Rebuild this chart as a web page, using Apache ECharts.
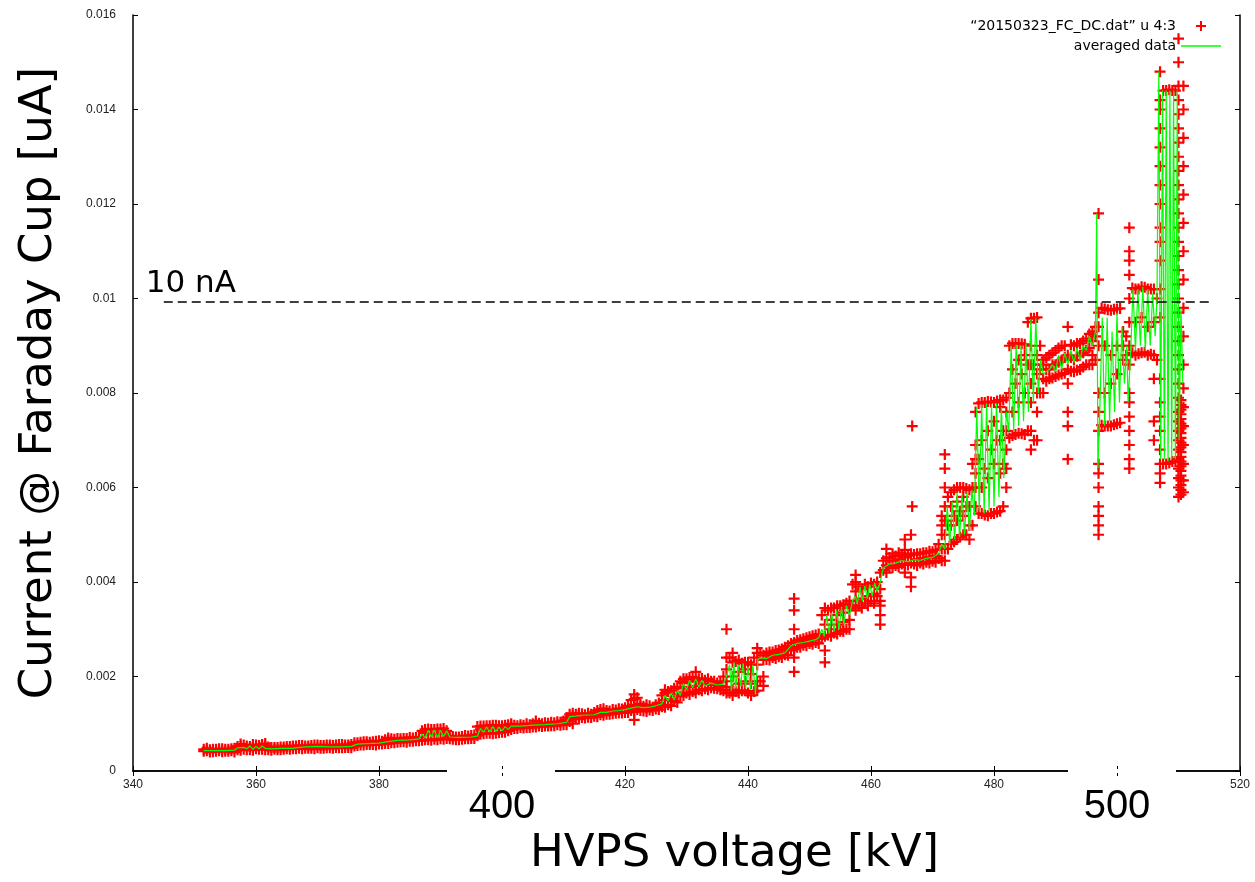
<!DOCTYPE html>
<html>
<head>
<meta charset="utf-8">
<script src="https://cdn.jsdelivr.net/npm/echarts@6/dist/echarts.min.js"></script>
<style>
html,body{margin:0;padding:0;background:#fff;}
#chart{width:1255px;height:882px;}
</style>
</head>
<body>
<div id="chart"></div>
<script>
// ---- axis settings ----
const xMin = 340, xMax = 520, xStep = 20;
const yMin = 0, yMax = 0.016, yStep = 0.002;
const bigTickLabels = [400, 500];
const thresholdValue = 0.00993;
const thresholdRange = [345, 515];
const thresholdLabel = '10 nA';
const seriesNames = ['\u201c20150323_FC_DC.dat\u201d u 4:3', 'averaged data'];

// ---- raw measurements: [voltage kV, [currents uA]] ----
const rawColumns = [
  [351.5,[0.00042,0.00046]],[352.5,[0.00040,0.00045]],[353.5,[0.00042,0.00046]],[354.5,[0.00041,0.00047]],
  [355.5,[0.00042,0.00046]],[356.5,[0.00040,0.00048]],[357.5,[0.00044,0.00052,0.00057]],[358.5,[0.00045,0.00053]],
  [359.5,[0.00044,0.00050,0.00056]],[360.5,[0.00046,0.00054]],[361.5,[0.00045,0.00053,0.00058]],[362.5,[0.00044,0.00050]],
  [363.5,[0.00045,0.00050]],[364.5,[0.00046,0.00051]],[365.5,[0.00046,0.00052]],[366.5,[0.00047,0.00053]],
  [367.5,[0.00047,0.00054]],[368.5,[0.00048,0.00053]],[369.5,[0.00047,0.00055]],[370.5,[0.00048,0.00054]],
  [371.5,[0.00049,0.00055]],[372.5,[0.00048,0.00054]],[373.5,[0.00049,0.00056]],[374.5,[0.00050,0.00055]],
  [375.5,[0.00049,0.00056]],[376.5,[0.00054,0.00060]],[377.5,[0.00055,0.00062]],[378.5,[0.00056,0.00061]],
  [379.5,[0.00055,0.00063]],[380.5,[0.00057,0.00063]],[381.5,[0.00058,0.00065,0.00070]],[382.5,[0.00060,0.00067]],
  [383.5,[0.00062,0.00068]],[384.5,[0.00061,0.00069]],[385.5,[0.00063,0.00070]],[386.5,[0.00064,0.00072]],
  [387.5,[0.00066,0.00080,0.00088]],[388.5,[0.00065,0.00078,0.00088]],[389.5,[0.00066,0.00080,0.00089]],[390.5,[0.00067,0.00082,0.00090]],
  [391.5,[0.00068,0.00074]],[392.5,[0.00066,0.00072]],[393.5,[0.00067,0.00073]],[394.5,[0.00068,0.00074]],
  [395.5,[0.00069,0.00076]],[396.5,[0.00078,0.00088,0.00095]],[397.5,[0.00080,0.00089,0.00096]],[398.5,[0.00079,0.00090,0.00097]],
  [399.5,[0.00081,0.00090,0.00096]],[400.5,[0.00082,0.00091,0.00097]],[401.5,[0.00088,0.00095,0.00100]],[402.5,[0.00090,0.00096]],
  [403.5,[0.00091,0.00097]],[404.5,[0.00092,0.00098]],[405.5,[0.00093,0.00099,0.00106]],[406.5,[0.00094,0.00100]],
  [407.5,[0.00095,0.00101]],[408.5,[0.00096,0.00102]],[409.5,[0.00097,0.00103]],[410.5,[0.00098,0.00108,0.00113]],
  [411.5,[0.00100,0.00116,0.00122]],[412.5,[0.00110,0.00118,0.00122]],[413.5,[0.00112,0.00119]],[414.5,[0.00113,0.00120]],
  [415.5,[0.00115,0.00122,0.00128]],[416.5,[0.00118,0.00124,0.00132]],[417.5,[0.00120,0.00127]],[418.5,[0.00122,0.00129]],
  [419.5,[0.00123,0.00131]],[420.5,[0.00124,0.00132,0.00138]],[421.5,[0.00108,0.00125,0.00133,0.00140,0.00152,0.00162]],
  [422.5,[0.00128,0.00136,0.00142]],[423.5,[0.00126,0.00133,0.00140]],[424.5,[0.00128,0.00135]],[425.5,[0.00130,0.00137,0.00144]],
  [426.5,[0.00135,0.00150,0.00165,0.00172]],[427.5,[0.00138,0.00152,0.00170]],[428.5,[0.00145,0.00162,0.00178]],
  [429.5,[0.00160,0.00175,0.00186,0.00195]],[430.5,[0.00162,0.00178,0.00190,0.00198]],[431.5,[0.00165,0.00180,0.00192,0.00210]],
  [432.5,[0.00170,0.00185,0.00196]],[433.5,[0.00172,0.00184,0.00195]],[434.5,[0.00175,0.00182,0.00190]],[435.5,[0.00172,0.00180,0.00188]],
  [436.5,[0.00165,0.00178,0.00190,0.00215,0.00240,0.00300]],[437.5,[0.00160,0.00172,0.00200,0.00230,0.00250]],
  [438.5,[0.00165,0.00185,0.00210,0.00235]],[439.5,[0.00170,0.00190,0.00215,0.00230]],[440.5,[0.00160,0.00185,0.00205,0.00225]],
  [441.5,[0.00170,0.00190,0.00225,0.00250,0.00260]],[442.5,[0.00180,0.00200,0.00235,0.00245]],
  [443.5,[0.00235,0.00245,0.00252]],[444.5,[0.00238,0.00248,0.00255]],[445.5,[0.00240,0.00250,0.00258]],[446.5,[0.00245,0.00256,0.00265]],
  [447.5,[0.00210,0.00240,0.00258,0.00272,0.00300,0.00340,0.00365]],[448.5,[0.00262,0.00270,0.00278]],
  [449.5,[0.00265,0.00275,0.00282]],[450.5,[0.00268,0.00278,0.00286]],[451.5,[0.00270,0.00280,0.00290]],
  [452.5,[0.00230,0.00255,0.00285,0.00310,0.00345]],[453.5,[0.00285,0.00300,0.00320,0.00345]],[454.5,[0.00290,0.00310,0.00330,0.00350]],
  [455.5,[0.00295,0.00315,0.00335,0.00352]],[456.5,[0.00300,0.00320,0.00345,0.00360]],[457.5,[0.00340,0.00360,0.00380,0.00400,0.00415]],
  [458.5,[0.00345,0.00365,0.00385]],[459.5,[0.00350,0.00370,0.00390]],[460.5,[0.00355,0.00375,0.00395]],
  [461.5,[0.00310,0.00330,0.00350,0.00360,0.00385,0.00420]],[462.5,[0.00420,0.00435,0.00450,0.00470]],
  [463.5,[0.00430,0.00445,0.00460]],[464.5,[0.00432,0.00448,0.00462]],[465.5,[0.00420,0.00438,0.00452,0.00468,0.00490]],
  [466.5,[0.00390,0.00410,0.00440,0.00460,0.00500]],[466.7,[0.00560,0.00730]],[467.5,[0.00435,0.00448,0.00460]],
  [468.5,[0.00438,0.00450,0.00462]],[469.5,[0.00440,0.00452,0.00465]],[470.5,[0.00442,0.00455,0.00468]],
  [471.5,[0.00445,0.00470,0.00500,0.00520,0.00540]],
  [472,[0.00445,0.00470,0.00500,0.00530,0.00560,0.00600,0.00640,0.00670]],
  [473,[0.00480,0.00520,0.00560,0.00590]],[474,[0.00490,0.00530,0.00570,0.00600]],[475,[0.00500,0.00540,0.00580,0.00600]],
  [476,[0.00490,0.00520,0.00560,0.00595]],[477,[0.00560,0.00600,0.00630,0.00660,0.00690,0.00760]],
  [478,[0.00545,0.00600,0.00700,0.00780]],[479,[0.00540,0.00620,0.00720,0.00782]],[480,[0.00545,0.00650,0.00740,0.00780]],
  [481,[0.00550,0.00630,0.00700,0.00770,0.00785]],[482,[0.00600,0.00640,0.00680,0.00720,0.00760,0.00790]],
  [483,[0.00710,0.00760,0.00850,0.00905]],[484,[0.00715,0.00780,0.00870,0.00905]],[485,[0.00712,0.00800,0.00880,0.00903]],
  [486,[0.00680,0.00720,0.00780,0.00820,0.00860,0.00900,0.00958]],[487,[0.00700,0.00760,0.00800,0.00840,0.00880,0.00960]],
  [488,[0.00800,0.00830,0.00860,0.00870]],[489,[0.00830,0.00850,0.00880]],[490,[0.00835,0.00860,0.00890]],
  [491,[0.00840,0.00870,0.00900]],[492,[0.00660,0.00730,0.00760,0.00820,0.00850,0.00880,0.00940]],
  [493,[0.00845,0.00870,0.00900]],[494,[0.00850,0.00880,0.00905]],[495,[0.00860,0.00890,0.00915]],
  [496,[0.00860,0.00880,0.00910,0.00930]],
  [497,[0.00500,0.00520,0.00540,0.00560,0.00600,0.00630,0.00650,0.00720,0.00760,0.00800,0.00900,0.00940,0.00970,0.01040,0.01180]],
  [498,[0.00730,0.00800,0.00900,0.00978]],[499,[0.00730,0.00820,0.00880,0.00975]],[500,[0.00735,0.00840,0.00900,0.00978]],
  [501,[0.00870,0.00900,0.00930]],
  [502,[0.00640,0.00660,0.00690,0.00720,0.00750,0.00780,0.00800,0.00860,0.00900,0.00950,0.01000,0.01050,0.01080,0.01100,0.01150]],
  [503,[0.00880,0.00950,0.01020]],[504,[0.00885,0.00960,0.01025]],[505,[0.00880,0.00940,0.01020]],
  [506,[0.00700,0.00740,0.00830,0.00880,0.00950,0.01020]],
  [507,[0.00610,0.00630,0.00650,0.00680,0.00720,0.00750,0.00780,0.00830,0.00960,0.01020,0.01080,0.01120,0.01150,0.01200,0.01240,0.01280,0.01320,0.01360,0.01400,0.01420,0.01480]],
  [508,[0.00650,0.01440]],[509,[0.00655,0.01440]],
  [510,[0.00580,0.00600,0.00620,0.00640,0.00660,0.00680,0.00700,0.00720,0.00740,0.00760,0.00790,0.00820,0.00850,0.00880,0.00910,0.00940,0.00970,0.01000,0.01030,0.01060,0.01090,0.01120,0.01150,0.01180,0.01210,0.01240,0.01270,0.01300,0.01330,0.01360,0.01390,0.01420,0.01450,0.01500,0.01550]],
  [510.8,[0.00590,0.00615,0.00650,0.00690,0.00730,0.00770,0.00810,0.00860,0.00920,0.00980,0.01040,0.01100,0.01160,0.01220,0.01280,0.01340,0.01400,0.01450]]
];

// ---- further raw readings between the columns above ----
const rawColumnsFill = [
  [352,[0.00043,0.00048]],[353,[0.00041,0.00046]],[354,[0.00043,0.00047]],[355,[0.00042,0.00046]],[356,[0.00043,0.00047]],
  [357,[0.00045,0.00052]],[358,[0.00046,0.00055]],[359,[0.00045,0.00052]],[360,[0.00047,0.00055]],[361,[0.00046,0.00056]],
  [362,[0.00045,0.00051]],[363,[0.00046,0.00050]],[364,[0.00045,0.00051]],[365,[0.00047,0.00052]],[366,[0.00047,0.00053]],
  [367,[0.00048,0.00054]],[368,[0.00048,0.00053]],[369,[0.00048,0.00054]],[370,[0.00049,0.00055]],[371,[0.00048,0.00054]],
  [372,[0.00049,0.00055]],[373,[0.00050,0.00055]],[374,[0.00049,0.00056]],[375,[0.00050,0.00055]],[376,[0.00053,0.00060]],
  [377,[0.00055,0.00061]],[378,[0.00056,0.00062]],[379,[0.00056,0.00062]],[380,[0.00057,0.00064]],[381,[0.00058,0.00066]],
  [382,[0.00060,0.00068]],[383,[0.00061,0.00069]],[384,[0.00062,0.00069]],[385,[0.00063,0.00071]],[386,[0.00064,0.00071]],
  [387,[0.00065,0.00085]],[388,[0.00066,0.00089]],[389,[0.00067,0.00088]],[390,[0.00068,0.00089]],[391,[0.00069,0.00085]],
  [392,[0.00067,0.00073]],[393,[0.00066,0.00072]],[394,[0.00068,0.00075]],[395,[0.00069,0.00075]],[396,[0.00075,0.00094]],
  [397,[0.00079,0.00095]],[398,[0.00080,0.00096]],[399,[0.00080,0.00097]],[400,[0.00082,0.00096]],[401,[0.00085,0.00098]],
  [402,[0.00090,0.00097]],[403,[0.00092,0.00098]],[404,[0.00092,0.00100]],[405,[0.00093,0.00100]],[406,[0.00095,0.00101]],
  [407,[0.00095,0.00102]],[408,[0.00096,0.00103]],[409,[0.00098,0.00104]],[410,[0.00098,0.00106]],[411,[0.00105,0.00120]],
  [412,[0.00112,0.00120]],[413,[0.00113,0.00121]],[414,[0.00114,0.00122]],[415,[0.00116,0.00124]],[416,[0.00119,0.00130]],
  [417,[0.00120,0.00128]],[418,[0.00121,0.00130]],[419,[0.00123,0.00132]],[420,[0.00124,0.00134]],[421,[0.00128,0.00150]],
  [422,[0.00130,0.00155]],[423,[0.00127,0.00137]],[424,[0.00129,0.00138]],[425,[0.00131,0.00140]],[426,[0.00136,0.00160]],
  [427,[0.00140,0.00168]],[428,[0.00148,0.00175]],[429,[0.00158,0.00190]],[430,[0.00165,0.00195]],[431,[0.00168,0.00198]],
  [432,[0.00172,0.00195]],[433,[0.00174,0.00192]],[434,[0.00176,0.00190]],[435,[0.00174,0.00186]],[436,[0.00170,0.00200]],
  [437,[0.00165,0.00240]],[438,[0.00168,0.00232]],[439,[0.00170,0.00228]],[440,[0.00165,0.00230]],[441,[0.00168,0.00240]],
  [442,[0.00190,0.00250]],[443,[0.00236,0.00250]],[444,[0.00240,0.00252]],[445,[0.00242,0.00256]],[446,[0.00246,0.00262]],
  [447,[0.00255,0.00270]],[448,[0.00262,0.00276]],[449,[0.00266,0.00280]],[450,[0.00270,0.00284]],[451,[0.00272,0.00288]],
  [452,[0.00280,0.00330]],[453,[0.00288,0.00340]],[454,[0.00292,0.00345]],[455,[0.00296,0.00350]],[456,[0.00300,0.00355]],
  [457,[0.00350,0.00395]],[458,[0.00350,0.00390]],[459,[0.00355,0.00395]],[460,[0.00360,0.00398]],[461,[0.00370,0.00400]],
  [462,[0.00425,0.00445]],[463,[0.00432,0.00452]],[464,[0.00435,0.00455]],[465,[0.00438,0.00458]],[466,[0.00436,0.00456]],
  [467,[0.00438,0.00458]],[468,[0.00440,0.00460]],[469,[0.00442,0.00462]],[470,[0.00444,0.00464]],[471,[0.00450,0.00480]],
  [472.5,[0.00470,0.00520,0.00580]],[473.5,[0.00485,0.00540,0.00595]],[474.5,[0.00495,0.00550,0.00600]],[475.5,[0.00500,0.00560,0.00598]],
  [476.5,[0.00520,0.00600,0.00650]],[477.5,[0.00545,0.00660,0.00778]],[478.5,[0.00542,0.00640,0.00780]],[479.5,[0.00545,0.00680,0.00781]],
  [480.5,[0.00548,0.00700,0.00783]],[481.5,[0.00560,0.00650,0.00720,0.00785]],[482.5,[0.00705,0.00800,0.00900]],
  [483.5,[0.00712,0.00820,0.00905]],[484.5,[0.00714,0.00840,0.00904]],[485.5,[0.00720,0.00860,0.00950]],[486.5,[0.00700,0.00860,0.00958]],
  [487.5,[0.00800,0.00850,0.00900]],[488.5,[0.00825,0.00850,0.00875]],[489.5,[0.00832,0.00860,0.00885]],[490.5,[0.00838,0.00865,0.00895]],
  [491.5,[0.00842,0.00875,0.00900]],[492.5,[0.00846,0.00875,0.00902]],[493.5,[0.00848,0.00878,0.00905]],[494.5,[0.00855,0.00885,0.00910]],
  [495.5,[0.00860,0.00895,0.00925]],[496.5,[0.00870,0.00920,0.00940]],[497.5,[0.00732,0.00980]],[498.5,[0.00730,0.00976]],
  [499.5,[0.00733,0.00977]],[500.5,[0.00737,0.00979]],[501.5,[0.00880,0.00920]],[502.5,[0.00885,0.01022]],[503.5,[0.00883,0.01020]],
  [504.5,[0.00886,0.01024]],[505.5,[0.00882,0.01020]],[506.5,[0.00870,0.01000]],[507.5,[0.00650,0.01440]],[508.5,[0.00652,0.01442]],
  [509.5,[0.00655,0.01440]],
  [510.4,[0.00585,0.00595,0.00605,0.00615,0.00625,0.00635,0.00645,0.00655,0.00665,0.00675,0.00685,0.00695,0.00705,0.00715,0.00725,0.00735,0.00745,0.00755,0.00765,0.00775,0.00785]]
];

// ---- averaged data: [voltage kV, current uA] ----
const averagedData = [
  [351.5,0.00043],[353,0.00043],[355,0.00043],[356.5,0.00044],[357,0.00049],[358,0.00050],[358.5,0.00047],[359,0.00053],
  [359.5,0.00046],[360,0.00052],[360.5,0.00047],[361,0.00053],[361.5,0.00048],[362.5,0.00047],[364,0.00048],[366,0.00048],
  [367,0.00050],[368,0.00051],[370,0.00052],[372,0.00051],[374,0.00051],[375.5,0.00052],[376.5,0.00057],[378,0.00058],
  [380,0.00059],[381.5,0.00062],[383,0.00065],[385,0.00066],[386.5,0.00068],[387,0.00078],[387.5,0.00070],[388,0.00086],
  [388.5,0.00072],[389,0.00087],[389.5,0.00071],[390,0.00086],[390.5,0.00073],[391,0.00085],[391.5,0.00072],[393,0.00071],
  [395,0.00072],[396,0.00074],[396.5,0.00090],[397,0.00082],[397.5,0.00093],[398,0.00083],[398.5,0.00094],[399,0.00084],
  [399.5,0.00093],[400,0.00085],[400.5,0.00094],[401,0.00088],[401.5,0.00095],[403,0.00095],[405,0.00097],[407,0.00098],
  [409,0.00100],[410.5,0.00103],[411,0.00115],[412,0.00116],[413,0.00118],[415,0.00119],[416,0.00124],[417,0.00124],
  [418,0.00127],[419,0.00128],[420,0.00130],[421,0.00133],[422,0.00136],[423,0.00134],[424,0.00135],[425,0.00138],
  [426,0.00142],[426.5,0.00160],[427,0.00148],[427.5,0.00165],[428,0.00150],[428.5,0.00170],[429,0.00160],[429.5,0.00185],
  [430,0.00172],[430.5,0.00192],[431,0.00176],[431.5,0.00195],[432,0.00178],[432.5,0.00192],[433,0.00180],[434,0.00186],
  [435,0.00182],[436,0.00184],[436.5,0.00200],[437,0.00225],[437.3,0.00170],[437.7,0.00230],[438,0.00175],[438.4,0.00225],
  [438.8,0.00180],[439.2,0.00228],[439.6,0.00175],[440,0.00220],[440.4,0.00172],[440.8,0.00225],[441.2,0.00165],[441.6,0.00235],
  [442,0.00240],[443,0.00238],[444,0.00245],[445,0.00247],[446,0.00250],[447,0.00265],[448,0.00270],[449,0.00272],
  [450,0.00275],[451,0.00278],[451.5,0.00282],[452,0.00300],[452.4,0.00285],[452.8,0.00330],[453.2,0.00290],[453.6,0.00335],
  [454,0.00295],[454.4,0.00340],[454.8,0.00300],[455.2,0.00345],[455.6,0.00310],[456,0.00350],[456.5,0.00330],[457,0.00360],
  [457.4,0.00370],[457.8,0.00355],[458.2,0.00390],[458.6,0.00360],[459,0.00392],[459.4,0.00365],[459.8,0.00395],[460.2,0.00370],
  [460.6,0.00398],[461,0.00380],[461.5,0.00400],[462,0.00430],[463,0.00438],[464,0.00440],[465,0.00445],[466,0.00443],
  [467,0.00447],[468,0.00446],[469,0.00450],[470,0.00452],[471,0.00460],[471.5,0.00480],[472,0.00470],[472.4,0.00560],
  [472.8,0.00480],[473.2,0.00570],[473.6,0.00490],[474,0.00590],[474.4,0.00495],[474.8,0.00585],[475.2,0.00500],[475.6,0.00590],
  [476,0.00510],[476.4,0.00595],[476.8,0.00540],[477.2,0.00770],[477.6,0.00550],[478,0.00775],[478.4,0.00545],[478.8,0.00778],
  [479.2,0.00550],[479.6,0.00776],[480,0.00560],[480.4,0.00778],[480.8,0.00580],[481.2,0.00770],[481.6,0.00620],[482,0.00760],
  [482.4,0.00720],[482.8,0.00900],[483.2,0.00720],[483.6,0.00902],[484,0.00730],[484.4,0.00900],[484.8,0.00740],[485.2,0.00905],
  [485.6,0.00760],[486,0.00956],[486.4,0.00780],[486.8,0.00958],[487.2,0.00800],[487.6,0.00870],[488,0.00840],[489,0.00850],
  [489.5,0.00860],[490,0.00845],[490.5,0.00880],[491,0.00850],[491.5,0.00885],[492,0.00860],[492.5,0.00890],[493,0.00865],
  [493.5,0.00895],[494,0.00870],[494.5,0.00900],[495,0.00890],[495.5,0.00920],[496,0.00900],[496.5,0.00930],[496.7,0.01180],
  [496.9,0.00640],[497.2,0.00760],[497.6,0.00960],[498,0.00730],[498.4,0.00960],[498.8,0.00740],[499.2,0.00930],[499.6,0.00760],
  [500,0.00970],[500.4,0.00780],[500.8,0.00940],[501.2,0.00820],[501.6,0.00900],[501.8,0.00780],[502.2,0.00880],[502.6,0.01020],
  [503,0.00890],[503.4,0.01020],[503.8,0.00900],[504.2,0.01025],[504.6,0.00890],[505,0.01020],[505.4,0.00900],[505.8,0.01010],
  [506.2,0.00920],[506.5,0.01000],[506.8,0.01480],[507.1,0.00660],[507.4,0.01440],[507.7,0.00660],[508,0.01440],[508.3,0.00655],
  [508.6,0.01440],[508.9,0.00660],[509.2,0.01440],[509.5,0.00660],[509.8,0.01440],[510.1,0.00700],[510.4,0.00980],[510.7,0.00820]
];

// ---- build scatter points from columns ----
const rawPoints = [];
rawColumns.concat(rawColumnsFill).forEach(function (col) {
  col[1].forEach(function (c) { rawPoints.push([col[0], c]); });
});

const plusPath = 'path://M4,0H6V4H10V6H6V10H4V6H0V4H4Z';
const linePath = 'path://M0,0H40V1.4H0Z';
const tickFont = 'Liberation Sans';
const legendFont = 'DejaVu Sans';
const titleFont = '"Comic Sans MS", "DejaVu Sans", sans-serif';

const chart = echarts.init(document.getElementById('chart'), null, {renderer: 'canvas'});

const baseAxisLine = {show: true, lineStyle: {color: '#000', width: 1.5}};
const innerTick = {show: true, inside: true, length: 5, lineStyle: {color: '#000'}};

chart.setOption({
  animation: false,
  backgroundColor: '#fff',
  grid: {left: 133, right: 15, top: 15, bottom: 111, containLabel: false, outerBoundsMode: 'none'},
  legend: {
    right: 29, top: 14, orient: 'vertical', align: 'right',
    itemWidth: 40, itemHeight: 10, itemGap: 6,
    textStyle: {fontFamily: legendFont, fontSize: 14, color: '#000'},
    data: [
      {name: seriesNames[0], icon: plusPath},
      {name: seriesNames[1], icon: linePath}
    ]
  },
  xAxis: [
    {
      type: 'value', min: xMin, max: xMax, interval: xStep,
      axisLine: baseAxisLine, axisTick: innerTick,
      splitLine: {show: false},
      axisLabel: {
        margin: 8, color: '#222', fontFamily: tickFont, fontSize: 12,
        formatter: function (v) {
          return bigTickLabels.indexOf(v) >= 0 ? '{big|' + v + '}' : String(v);
        },
        rich: {big: {fontSize: 40, fontFamily: tickFont, color: '#000', padding: [8, 0, 0, 0]}}
      },
      name: 'HVPS voltage [kV]', nameLocation: 'middle', nameGap: 61,
      nameTextStyle: {fontFamily: titleFont, fontSize: 45, color: '#000', padding: [0, 0, 0, 96]}
    },
    {
      type: 'value', position: 'top', min: xMin, max: xMax, interval: xStep,
      axisLine: baseAxisLine, axisTick: innerTick,
      axisLabel: {show: false}, splitLine: {show: false}
    }
  ],
  yAxis: [
    {
      type: 'value', min: yMin, max: yMax, interval: yStep,
      axisLine: baseAxisLine, axisTick: innerTick,
      splitLine: {show: false},
      axisLabel: {margin: 17, color: '#222', fontFamily: tickFont, fontSize: 12},
      name: 'Current @ Faraday Cup [uA]', nameLocation: 'middle', nameGap: 71, nameRotate: 90,
      nameTextStyle: {fontFamily: titleFont, fontSize: 45, color: '#000', padding: [0, 0, 0, 20]}
    },
    {
      type: 'value', position: 'right', min: yMin, max: yMax, interval: yStep,
      axisLine: baseAxisLine, axisTick: innerTick,
      axisLabel: {show: false}, splitLine: {show: false}
    }
  ],
  series: [
    {
      name: seriesNames[0], type: 'scatter', data: rawPoints,
      symbol: plusPath, symbolSize: 11,
      itemStyle: {color: '#ff0000', opacity: 1},
      z: 2,
      markLine: {
        silent: true, symbol: 'none',
        lineStyle: {color: '#000', type: [9, 5], width: 1.6},
        label: {
          show: true, position: 'insideStartTop', formatter: thresholdLabel,
          fontFamily: titleFont, fontSize: 31, color: '#000', distance: [-18, 2]
        },
        data: [[{coord: [thresholdRange[0], thresholdValue]}, {coord: [thresholdRange[1], thresholdValue]}]]
      }
    },
    {
      name: seriesNames[1], type: 'line', data: averagedData,
      showSymbol: false, symbol: 'none',
      lineStyle: {color: '#00ff00', width: 1.2},
      itemStyle: {color: '#00ff00'},
      z: 3
    }
  ],
  graphic: [
    {type: 'rect', z: 100, shape: {x: 447, y: 769, width: 108, height: 4}, style: {fill: '#fff'}},
    {type: 'rect', z: 100, shape: {x: 1068, y: 769, width: 108, height: 4}, style: {fill: '#fff'}}
  ]
});
</script>
</body>
</html>
